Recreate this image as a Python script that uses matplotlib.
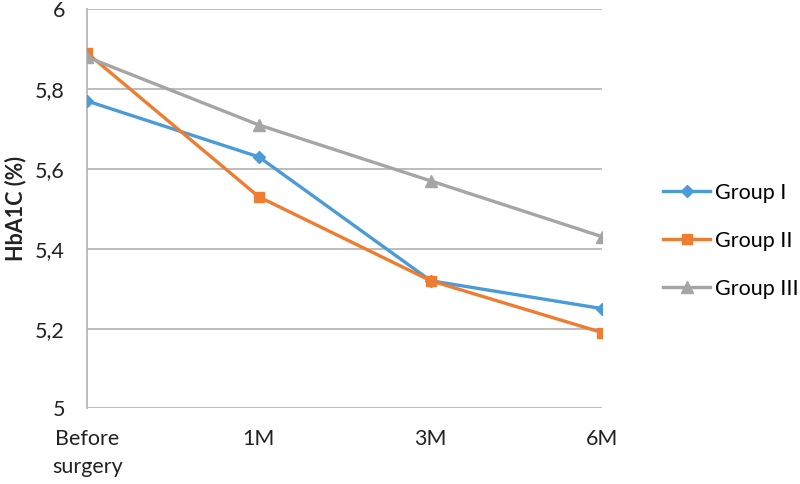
"""HbA1C over follow-up for the three groups"""

import matplotlib.pyplot as plt

plt.rcParams['font.family'] = ['Lato', 'DejaVu Sans']

timepoints = ['Before\nsurgery', '1M', '3M', '6M']
group_1 = [5.77, 5.63, 5.32, 5.25]
group_2 = [5.89, 5.53, 5.32, 5.19]
group_3 = [5.88, 5.71, 5.57, 5.43]
y_ticks = [5.0, 5.2, 5.4, 5.6, 5.8, 6.0]
y_tick_labels = ['5', '5,2', '5,4', '5,6', '5,8', '6']


def main():
    fig = plt.figure(figsize=(8, 4.84), dpi=100)
    ax = fig.add_axes([0.109, 0.156, 0.644, 0.825])

    x = range(len(timepoints))
    ax.plot(x, group_1, color='#4a9bd8', lw=2.4, marker='D', ms=6,
            label='Group I', zorder=3)
    ax.plot(x, group_2, color='#ee7d31', lw=2.4, marker='s', ms=7,
            label='Group II', zorder=3)
    ax.plot(x, group_3, color='#a5a5a5', lw=2.4, marker='^', ms=8,
            label='Group III', zorder=3)

    ax.set_xlim(0, 3)
    ax.set_ylim(5, 6)
    ax.set_xticks(list(x))
    ax.set_xticklabels(timepoints, fontsize=15.5, color='#222222',
                       linespacing=1.45)
    ax.set_yticks(y_ticks)
    ax.set_yticklabels(y_tick_labels, fontsize=15.5, color='#222222')
    ax.tick_params(length=0)
    ax.tick_params(axis='y', pad=16)
    ax.tick_params(axis='x', pad=15)
    ax.grid(axis='y', color='#b8b8b8', lw=1.3)
    ax.set_axisbelow(True)
    for side in ['top', 'right', 'bottom']:
        ax.spines[side].set_visible(False)
    ax.spines['left'].set_color('#b8b8b8')
    ax.spines['left'].set_linewidth(1.3)
    ax.set_ylabel('HbA1C (%)', fontsize=15.5, fontweight='bold',
                  color='#222222', labelpad=6)

    fig.legend(loc='center left', bbox_to_anchor=(0.818, 0.503),
               frameon=False, fontsize=15.5, handlelength=2.2,
               handletextpad=0.2, labelspacing=1.3, borderaxespad=0)

    fig.savefig('out.png', dpi=100)


if __name__ == "__main__":
    main()
